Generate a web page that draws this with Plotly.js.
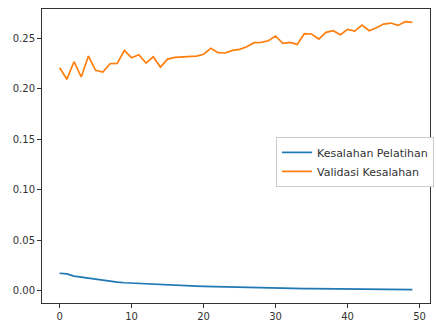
<!DOCTYPE html>
<html>
<head>
<meta charset="utf-8">
<script src="https://cdn.plot.ly/plotly-3.0.1.min.js"></script>
<style>html,body{margin:0;padding:0;background:#fff;}#chart{width:436px;height:327px;}</style>
</head>
<body>
<div id="chart"></div>
<script>
const epochs = Array.from({length: 50}, (_, i) => i);
const trainLoss = [0.0175,0.0168,0.0147,0.0137,0.0127,0.0113,0.0104,0.0094,0.0087,0.0081,
  0.0077,0.0073,0.0069,0.0065,0.0063,0.0059,0.0055,0.0052,0.0049,0.0047,
  0.0045,0.0043,0.0041,0.0039,0.0037,0.0035,0.0034,0.0032,0.0031,0.0030,
  0.0028,0.0027,0.0026,0.0025,0.0024,0.0023,0.0022,0.0022,0.0021,0.0020,
  0.0019,0.0019,0.0018,0.0017,0.0017,0.0016,0.0016,0.0015,0.0015,0.0014];
const valLoss = [0.2207,0.2092,0.2266,0.2115,0.2322,0.2181,0.2164,0.2246,0.2250,0.2378,
  0.2305,0.2335,0.2253,0.2315,0.2213,0.2292,0.2309,0.2315,0.2319,0.2322,
  0.2340,0.2398,0.2355,0.2352,0.2378,0.2388,0.2414,0.2454,0.2457,0.2473,
  0.2520,0.2448,0.2457,0.2437,0.2543,0.2540,0.2490,0.2556,0.2572,0.2533,
  0.2586,0.2569,0.2628,0.2572,0.2602,0.2638,0.2648,0.2625,0.2662,0.2655];
const seriesNames = ['Kesalahan Pelatihan', 'Validasi Kesalahan'];
const xTicks = [0, 10, 20, 30, 40, 50];
const yTicks = [0.00, 0.05, 0.10, 0.15, 0.20, 0.25];

const traces = [
  {x: epochs, y: trainLoss, name: seriesNames[0], mode: 'lines', line: {color: '#1f77b4', width: 1.7}},
  {x: epochs, y: valLoss, name: seriesNames[1], mode: 'lines', line: {color: '#ff7f0e', width: 1.7}}
];
const axisCommon = {
  showgrid: false, zeroline: false, showline: true, mirror: true,
  linecolor: '#333', linewidth: 1, ticks: 'outside', ticklen: 4, tickwidth: 1, tickcolor: '#333',
  tickfont: {family: 'DejaVu Sans', size: 10, color: '#333'}
};
const layout = {
  width: 436, height: 327,
  margin: {l: 42, r: 2, t: 9, b: 24},
  paper_bgcolor: '#fff', plot_bgcolor: '#fff',
  showlegend: true,
  xaxis: Object.assign({}, axisCommon, {range: [-2.45, 51.45], tickvals: xTicks, ticktext: xTicks.map(String)}),
  yaxis: Object.assign({}, axisCommon, {range: [-0.0119, 0.2787], tickvals: yTicks, ticktext: yTicks.map(v => v.toFixed(2))}),
  legend: {x: 0.603, y: 0.565, xanchor: 'left', yanchor: 'top', bgcolor: '#fff', bordercolor: '#ccc', borderwidth: 1,
    font: {family: 'DejaVu Sans', size: 11, color: '#333'}, tracegroupgap: 0, itemwidth: 30}
};
Plotly.newPlot('chart', traces, layout, {staticPlot: true, displayModeBar: false});
</script>
</body>
</html>
